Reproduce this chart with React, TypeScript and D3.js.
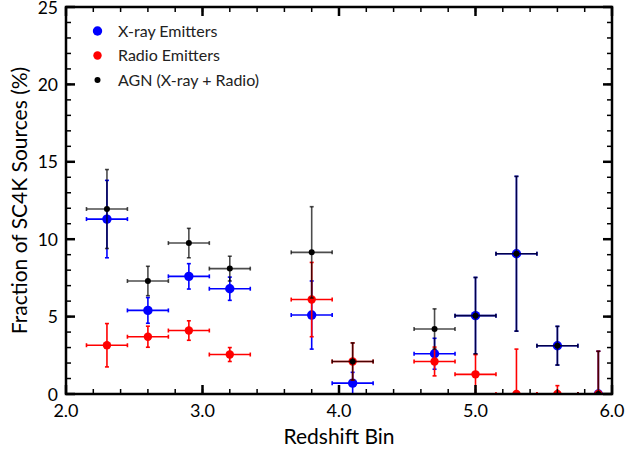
import React from "react";
import * as d3 from "d3";

const redshiftBins = [2.3, 2.6, 2.9, 3.2, 3.8, 4.1, 4.7, 5.0, 5.3, 5.6, 5.9];
const binHalfWidth = [0.15, 0.15, 0.15, 0.15, 0.15, 0.15, 0.15, 0.15, 0.15, 0.15, 0.15];
const xrayFrac = [11.3, 5.4, 7.6, 6.8, 5.1, 0.7, 2.6, 5.06, 9.06, 3.12, 0];
const xrayErr = [2.5, 0.83, 0.82, 0.75, 2.2, 0.7, 1.0, 2.47, 5.0, 1.25, 2.76];
const radioFrac = [3.15, 3.7, 4.1, 2.55, 6.1, 2.1, 2.1, 1.27, 0, 0, 0];
const radioErr = [1.4, 0.68, 0.63, 0.45, 2.4, 1.2, 0.93, 1.27, 2.9, 0.54, 2.76];
const agnFrac = [11.95, 7.3, 9.75, 8.1, 9.15, 2.1, 4.2, 5.06, 9.06, 3.12, 0];
const agnErr = [2.55, 0.95, 0.95, 0.8, 2.95, 1.2, 1.3, 2.47, 5.0, 1.25, 2.76];

const xTickLabels = ["2.0", "3.0", "4.0", "5.0", "6.0"];
const yTickLabels = ["0", "5", "10", "15", "20", "25"];

const seriesNames = ["X-ray Emitters", "Radio Emitters", "AGN (X-ray + Radio)"];

const W = 626;
const H = 452;
const L = 66, R = 612, T = 7, B = 394;
const FONT = "Lato, 'DejaVu Sans', sans-serif";

export default function App() {
  const x = d3.scaleLinear().domain([2, 6]).range([L, R]);
  const y = d3.scaleLinear().domain([0, 25]).range([B, T]);

  const series = [
    { name: seriesNames[0], vals: xrayFrac, errs: xrayErr, color: "#0000ff", r: 4.7, lineOp: 1 },
    { name: seriesNames[1], vals: radioFrac, errs: radioErr, color: "#ff0000", r: 4.2, lineOp: 1 },
    { name: seriesNames[2], vals: agnFrac, errs: agnErr, color: "#000000", r: 3.0, lineOp: 0.7 },
  ];

  const xMinor = d3.range(2, 6.0001, 0.2);
  const xMajor = xTickLabels.map((t) => +t);
  const yMinor = d3.range(0, 25.0001, 1);
  const yMajor = yTickLabels.map((t) => +t);
  const cap = 2;

  return (
    <svg width={W} height={H} style={{ position: "absolute", left: 0, top: 0, background: "#fff" }}>
      <defs>
        <clipPath id="plotclip">
          <rect x={L} y={T} width={R - L} height={B - T} />
        </clipPath>
      </defs>
      <g clipPath="url(#plotclip)">
        {series.map((s, si) => (
          <g key={si}>
            {redshiftBins.map((z, i) => {
              const cx = x(z);
              const cy = y(s.vals[i]);
              const x0 = x(z - binHalfWidth[i]);
              const x1 = x(z + binHalfWidth[i]);
              const y0 = y(s.vals[i] - s.errs[i]);
              const y1 = y(s.vals[i] + s.errs[i]);
              return (
                <g key={i} stroke={s.color} strokeWidth={1.6} strokeOpacity={s.lineOp}>
                  <line x1={x0} x2={x1} y1={cy} y2={cy} />
                  <line x1={x0} x2={x0} y1={cy - cap} y2={cy + cap} />
                  <line x1={x1} x2={x1} y1={cy - cap} y2={cy + cap} />
                  <line x1={cx} x2={cx} y1={y0} y2={y1} />
                  <line x1={cx - cap} x2={cx + cap} y1={y0} y2={y0} />
                  <line x1={cx - cap} x2={cx + cap} y1={y1} y2={y1} />
                </g>
              );
            })}
            {redshiftBins.map((z, i) => (
              <circle key={"m" + i} cx={x(z)} cy={y(s.vals[i])} r={s.r} fill={s.color} />
            ))}
          </g>
        ))}
      </g>

      {/* frame */}
      <rect x={L} y={T} width={R - L} height={B - T} fill="none" stroke="#000" strokeWidth={2.5} />

      {/* x ticks */}
      {xMinor.map((v, i) => (
        <g key={"xm" + i} stroke="#000" strokeWidth={1.5}>
          <line x1={x(v)} x2={x(v)} y1={B} y2={B - 5} />
          <line x1={x(v)} x2={x(v)} y1={T} y2={T + 5} />
        </g>
      ))}
      {xMajor.map((v, i) => (
        <g key={"xM" + i} stroke="#000" strokeWidth={2.5}>
          <line x1={x(v)} x2={x(v)} y1={B} y2={B - 9} />
          <line x1={x(v)} x2={x(v)} y1={T} y2={T + 9} />
        </g>
      ))}
      {yMinor.map((v, i) => (
        <g key={"ym" + i} stroke="#000" strokeWidth={1.5}>
          <line x1={L} x2={L + 5} y1={y(v)} y2={y(v)} />
          <line x1={R} x2={R - 5} y1={y(v)} y2={y(v)} />
        </g>
      ))}
      {yMajor.map((v, i) => (
        <g key={"yM" + i} stroke="#000" strokeWidth={2.5}>
          <line x1={L} x2={L + 9} y1={y(v)} y2={y(v)} />
          <line x1={R} x2={R - 9} y1={y(v)} y2={y(v)} />
        </g>
      ))}

      {/* tick labels */}
      {xTickLabels.map((t, i) => (
        <text key={"xl" + i} x={x(xMajor[i])} y={B + 23} textAnchor="middle" fontFamily={FONT} fontSize={18} fill="#000">
          {t}
        </text>
      ))}
      {yTickLabels.map((t, i) => (
        <text key={"yl" + i} x={L - 8} y={y(yMajor[i]) + 6.5} textAnchor="end" fontFamily={FONT} fontSize={17.5} fill="#000">
          {t}
        </text>
      ))}

      {/* axis titles */}
      <text x={(L + R) / 2} y={444} textAnchor="middle" fontFamily={FONT} fontSize={21} fill="#000">
        Redshift Bin
      </text>
      <text
        transform={`translate(27, ${(T + B) / 2}) rotate(-90)`}
        textAnchor="middle"
        fontFamily={FONT}
        fontSize={21}
        fill="#000"
      >
        Fraction of SC4K Sources (%)
      </text>

      {/* legend */}
      {series.map((s, i) => (
        <g key={"lg" + i}>
          <circle cx={97.5} cy={31 + i * 24.5} r={s.r} fill={s.color} />
          <text x={118} y={31 + i * 24.5 + 5.5} fontFamily={FONT} fontSize={16} fill="#222">
            {s.name}
          </text>
        </g>
      ))}
    </svg>
  );
}
